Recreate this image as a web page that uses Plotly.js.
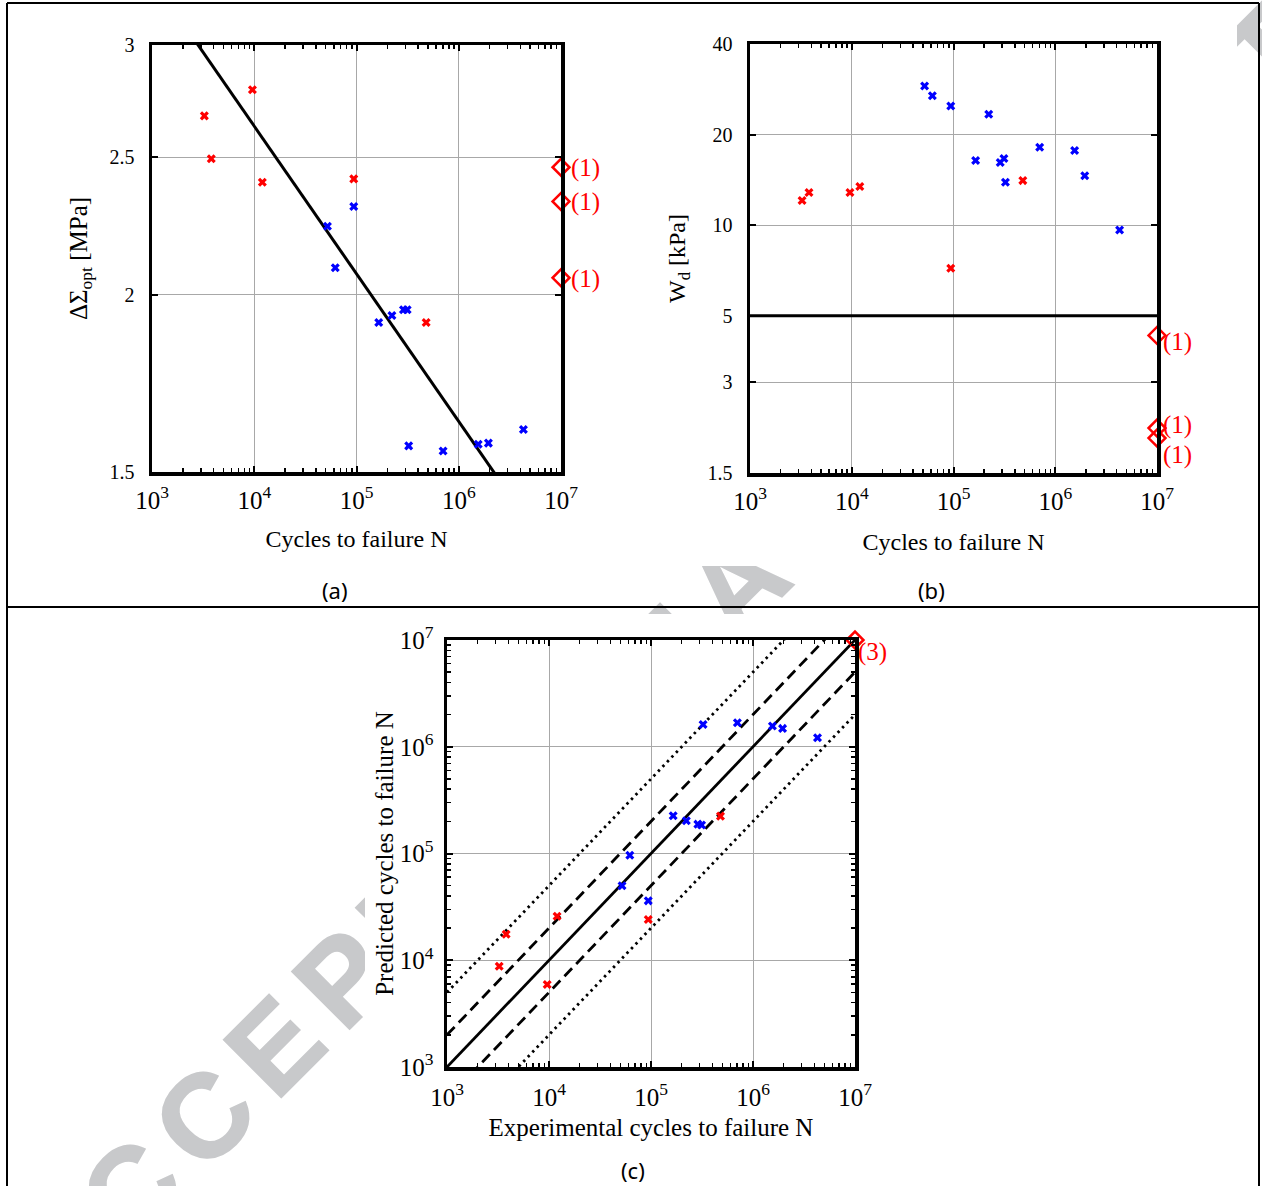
<!DOCTYPE html>
<html>
<head>
<meta charset="utf-8">
<script src="https://cdn.plot.ly/plotly-3.0.1.min.js"></script>
<style>
  html, body { margin: 0; padding: 0; background: #ffffff; }
  #wrap { position: relative; width: 1262px; height: 1186px; overflow: hidden; background: #ffffff; }
  #wm { position: absolute; left: -14px; top: 1251px; font-family: 'Liberation Sans', Arial, sans-serif; font-weight: bold;
        font-size: 118px; letter-spacing: 18px; color: #c8c9cb; -webkit-text-stroke: 2px #c8c9cb; white-space: nowrap; line-height: 1;
        transform: rotate(-45deg); transform-origin: 0 0; }
  #chart { position: absolute; left: 0; top: 0; width: 1262px; height: 1186px; }
</style>
</head>
<body>
<div id="wrap">
  <div id="wm">ACCEPTED MANUSCRIPT</div>
  <div id="chart"></div>
</div>
<script>
// ---------------- data ----------------
// cycles to failure (experimental)
const redN  = [3250, 3800, 9600, 12000, 94000, 480000];
const blueN = [52000, 62000, 94000, 165000, 222000, 288000, 313000, 324000, 703000, 1550000, 1950000, 4290000];

// (a) optimal stress amplitude [MPa]
const redSigma  = [2.674, 2.494, 2.79, 2.401, 2.414, 1.912];
const blueSigma = [2.235, 2.09, 2.308, 1.912, 1.934, 1.952, 1.952, 1.565, 1.552, 1.569, 1.572, 1.607];

// (b) dissipated energy density [kPa]
const redWd  = [12.07, 12.83, 12.83, 13.43, 7.19, 14.06];
const blueWd = [29.0, 26.9, 24.9, 16.39, 23.35, 16.14, 16.64, 13.88, 18.15, 17.69, 14.6, 9.64];

// (c) predicted cycles to failure
const redPred  = [8790, 17540, 5915, 25850, 24040, 223900];
const bluePred = [49800, 96400, 36000, 225400, 202300, 188400, 184500, 1618000, 1679000, 1563000, 1486000, 1213000];

// run-outs (10^7 cycles)
const runoutN = 1e7;
const runoutSigma = [2.46, 2.327, 2.056];
const runoutWd = [4.30, 2.116, 1.96];
const runoutLabelsA = ['(1)', '(1)', '(1)'];
const runoutLabelsB = ['(1)', '(1)', '(1)'];
const runoutLabelC = '(3)';

// (a) fitted curve  sigma = fitCoef * N^fitExp
const fitCoef = 6.86;
const fitExp = -0.1041;
// (b) threshold energy [kPa]
const wdThreshold = 5;
// (c) scatter band factors
const bandFactors = [1, 2, 0.5, 5, 0.2];
const bandStyles = ['solid', 'dash', 'dash', 'dot', 'dot'];

const xRangeN = [1e3, 1e7];
const yTicksA = [1.5, 2, 2.5, 3];
const yTicksB = [1.5, 3, 5, 10, 20, 40];

// ---------------- styling ----------------
const RED = '#ff0000', BLUE = '#0000ff';
const SERIF = 'Liberation Serif, Times New Roman, serif';
const W = 1262, H = 1186;
const px = v => v / W;
const py = v => 1 - v / H;

const xMarker = c => ({ symbol: 'x', size: 8, color: c, line: { width: 0 } });
const dashMap = { solid: 'solid', dash: '11px,6px', dot: '2.5px,4px' };

const traces = [];
// (a)
traces.push({ x: xRangeN, y: xRangeN.map(n => fitCoef * Math.pow(n, fitExp)), mode: 'lines', line: { color: '#000', width: 3 }, xaxis: 'x', yaxis: 'y', hoverinfo: 'skip' });
traces.push({ x: redN, y: redSigma, mode: 'markers', marker: xMarker(RED), xaxis: 'x', yaxis: 'y' });
traces.push({ x: blueN, y: blueSigma, mode: 'markers', marker: xMarker(BLUE), xaxis: 'x', yaxis: 'y' });
traces.push({ x: runoutSigma.map(() => runoutN), y: runoutSigma, mode: 'markers', cliponaxis: false,
  marker: { symbol: 'diamond-open', size: 13, color: RED, line: { width: 2.5, color: RED } }, xaxis: 'x', yaxis: 'y' });
// (b)
traces.push({ x: xRangeN, y: xRangeN.map(() => wdThreshold), mode: 'lines', line: { color: '#000', width: 3 }, xaxis: 'x2', yaxis: 'y2' });
traces.push({ x: redN, y: redWd, mode: 'markers', marker: xMarker(RED), xaxis: 'x2', yaxis: 'y2' });
traces.push({ x: blueN, y: blueWd, mode: 'markers', marker: xMarker(BLUE), xaxis: 'x2', yaxis: 'y2' });
traces.push({ x: runoutWd.map(() => runoutN), y: runoutWd, mode: 'markers', cliponaxis: false,
  marker: { symbol: 'diamond-open', size: 13, color: RED, line: { width: 2.5, color: RED } }, xaxis: 'x2', yaxis: 'y2' });
// (c)
bandFactors.forEach((f, i) => {
  traces.push({ x: xRangeN, y: xRangeN.map(n => n * f), mode: 'lines',
    line: { color: '#000', width: 2.8, dash: dashMap[bandStyles[i]] }, xaxis: 'x3', yaxis: 'y3' });
});
traces.push({ x: redN, y: redPred, mode: 'markers', marker: xMarker(RED), xaxis: 'x3', yaxis: 'y3' });
traces.push({ x: blueN, y: bluePred, mode: 'markers', marker: xMarker(BLUE), xaxis: 'x3', yaxis: 'y3' });
traces.push({ x: [runoutN], y: [runoutN], mode: 'markers', cliponaxis: false,
  marker: { symbol: 'diamond-open', size: 13, color: RED, line: { width: 2.5, color: RED } }, xaxis: 'x3', yaxis: 'y3' });

const tickFont = { family: SERIF, size: 20, color: '#000' };
const titleFont = { family: SERIF, size: 24, color: '#000' };
const titleFontC = { family: SERIF, size: 25, color: '#000' };

function logAxis(domain, anchor, range, extra) {
  return Object.assign({
    type: 'log', domain: domain, anchor: anchor, range: range,
    showline: true, linewidth: 3.5, linecolor: '#000', mirror: 'ticks',
    ticks: 'inside', ticklen: 6, tickwidth: 2, tickcolor: '#000',
    showgrid: true, gridcolor: '#a8a8a8', gridwidth: 1, zeroline: false,
    tickfont: tickFont, exponentformat: 'power', dtick: 1,
    minor: { ticks: 'inside', ticklen: 4, tickwidth: 1.5, tickcolor: '#000', showgrid: false },
    fixedrange: true
  }, extra || {});
}
function linLogY(domain, anchor, range, tickvals, extra) {
  return Object.assign({
    type: 'log', domain: domain, anchor: anchor, range: range,
    showline: true, linewidth: 3.5, linecolor: '#000', mirror: 'ticks',
    ticks: 'inside', ticklen: 6, tickwidth: 2, tickcolor: '#000',
    showgrid: true, gridcolor: '#a8a8a8', gridwidth: 1, zeroline: false,
    tickfont: tickFont, tickmode: 'array', tickvals: tickvals, ticktext: tickvals.map(String),
    fixedrange: true
  }, extra || {});
}

const lg = Math.log10;
const layout = {
  width: W, height: H,
  margin: { l: 0, r: 0, t: 0, b: 0, pad: 0 },
  paper_bgcolor: 'rgba(0,0,0,0)', plot_bgcolor: 'rgba(0,0,0,0)',
  showlegend: false,
  font: { family: SERIF, size: 20, color: '#000' },
  xaxis: logAxis([px(152), px(561)], 'y', [3, 7], { ticklabelstandoff: 4,
    title: { text: 'Cycles to failure N', font: titleFont, standoff: 18 } }),
  yaxis: linLogY([py(472), py(45)], 'x', [lg(1.5), lg(3)], yTicksA, { ticklabelstandoff: 10,
    title: { text: 'ΔΣ<sub>opt</sub> [MPa]', font: { family: SERIF, size: 25, color: '#000' }, standoff: 16 } }),
  xaxis2: logAxis([px(750), px(1157)], 'y2', [3, 7], { ticklabelstandoff: 4,
    title: { text: 'Cycles to failure N', font: titleFont, standoff: 20 } }),
  yaxis2: linLogY([py(473), py(44)], 'x2', [lg(1.5), lg(40)], yTicksB, { ticklabelstandoff: 10,
    title: { text: 'W<sub>d</sub> [kPa]', font: titleFont, standoff: 16 } }),
  xaxis3: logAxis([px(447), px(855)], 'y3', [3, 7], { ticklabelstandoff: 6,
    title: { text: 'Experimental cycles to failure N', font: titleFontC, standoff: 10 } }),
  yaxis3: logAxis([py(1067), py(640)], 'x3', [3, 7], { ticklabelstandoff: 6,
    title: { text: 'Predicted cycles to failure N', font: titleFontC, standoff: 0 } }),
  shapes: [
    // opaque figure images that hide the watermark
    { type: 'rect', xref: 'paper', yref: 'paper', x0: px(9), x1: px(640), y0: py(566), y1: py(4), fillcolor: '#fff', line: { width: 0 }, layer: 'below' },
    { type: 'rect', xref: 'paper', yref: 'paper', x0: px(640), x1: px(1237), y0: py(566), y1: py(4), fillcolor: '#fff', line: { width: 0 }, layer: 'below' },
    { type: 'rect', xref: 'paper', yref: 'paper', x0: px(365), x1: px(905), y0: py(1186), y1: py(614), fillcolor: '#fff', line: { width: 0 }, layer: 'below' },
    // table frame
    { type: 'line', xref: 'paper', yref: 'paper', x0: px(7), x1: px(1259), y0: py(3), y1: py(3), line: { color: '#000', width: 2 } },
    { type: 'line', xref: 'paper', yref: 'paper', x0: px(7), x1: px(7), y0: py(3), y1: py(1186), line: { color: '#000', width: 2 } },
    { type: 'line', xref: 'paper', yref: 'paper', x0: px(1259), x1: px(1259), y0: py(3), y1: py(1186), line: { color: '#000', width: 2 } },
    { type: 'line', xref: 'paper', yref: 'paper', x0: px(7), x1: px(1259), y0: py(607), y1: py(607), line: { color: '#000', width: 2 } }
  ],
  annotations: []
};

const capFont = { family: 'Noto Sans, Open Sans, sans-serif', size: 22, color: '#000' };
layout.annotations.push({ xref: 'paper', yref: 'paper', x: px(320), y: py(590), yanchor: 'middle', text: '(a)', showarrow: false, font: capFont });
layout.annotations.push({ xref: 'paper', yref: 'paper', x: px(947), y: py(590), yanchor: 'middle', text: '(b)', showarrow: false, font: capFont });
layout.annotations.push({ xref: 'paper', yref: 'paper', x: px(633), y: py(1170), yanchor: 'middle', text: '(c)', showarrow: false, font: capFont });

const lblFont = { family: SERIF, size: 25, color: RED };
runoutSigma.forEach((v, i) => layout.annotations.push({ xref: 'x', yref: 'y', x: lg(runoutN), y: lg(v), text: runoutLabelsA[i],
  showarrow: false, xanchor: 'left', yanchor: 'middle', xshift: 8, yshift: -1, font: lblFont }));
const bShifts = [-7, 3, -17];
runoutWd.forEach((v, i) => layout.annotations.push({ xref: 'x2', yref: 'y2', x: lg(runoutN), y: lg(v), text: runoutLabelsB[i],
  showarrow: false, xanchor: 'left', yanchor: 'middle', xshift: 4, yshift: bShifts[i], font: lblFont }));
layout.annotations.push({ xref: 'x3', yref: 'y3', x: lg(runoutN), y: lg(runoutN), text: runoutLabelC,
  showarrow: false, xanchor: 'left', yanchor: 'middle', xshift: 1, yshift: -12, font: lblFont });

Plotly.newPlot('chart', traces, layout, { staticPlot: true, displayModeBar: false });
</script>
</body>
</html>
